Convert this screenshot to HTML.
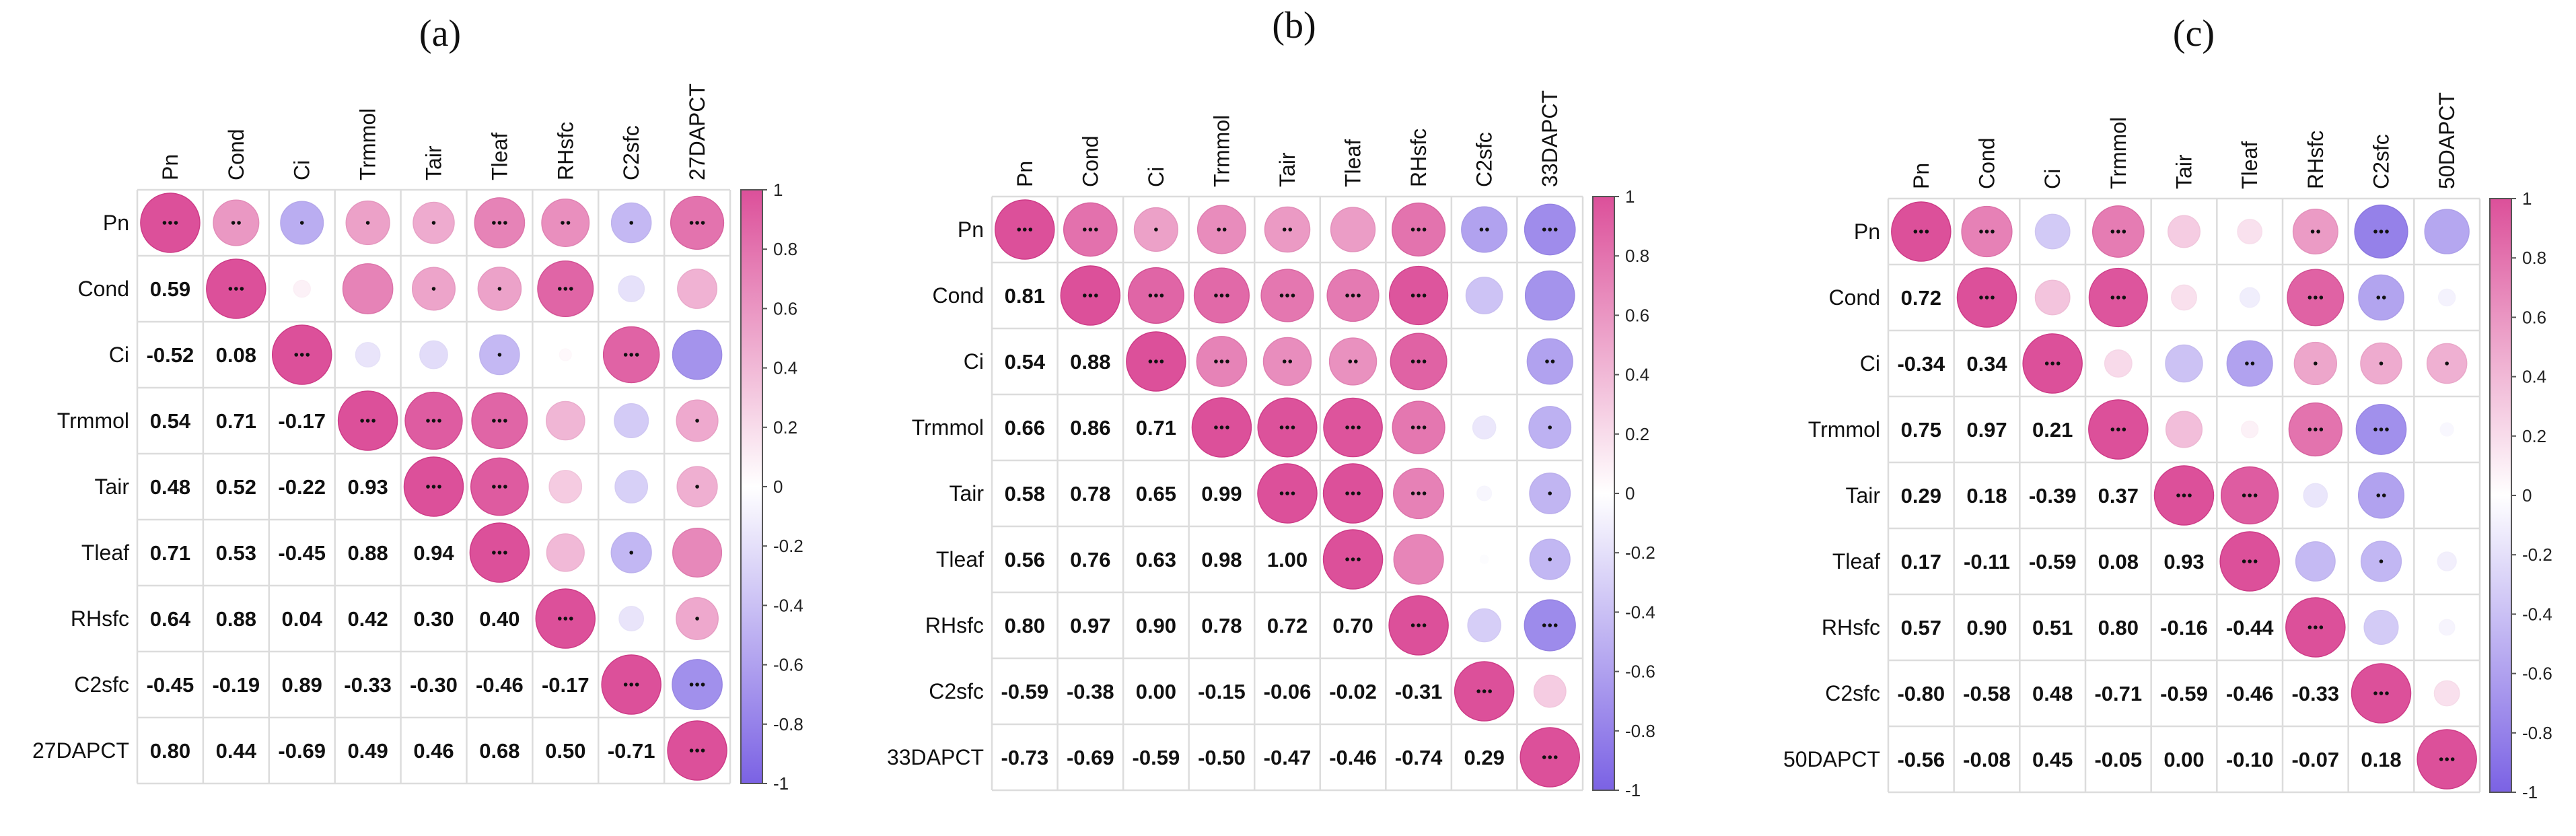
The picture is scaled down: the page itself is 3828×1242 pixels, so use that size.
<!DOCTYPE html>
<html><head><meta charset="utf-8"><style>
html,body{margin:0;padding:0;background:#fff;}
svg{display:block;font-family:"Liberation Sans",Arial,sans-serif;}
</style></head><body>
<svg id="fig" width="3828" height="1242" viewBox="0 0 3828 1242" xmlns="http://www.w3.org/2000/svg">
<defs>
<linearGradient id="cbg" x1="0" y1="0" x2="0" y2="1">
<stop offset="0" stop-color="#dc509a"/><stop offset="0.5" stop-color="#ffffff"/><stop offset="1" stop-color="#7b62e4"/>
</linearGradient>
</defs>
</svg>
<script>
// ---- data ----
const varsA = ["Pn","Cond","Ci","Trmmol","Tair","Tleaf","RHsfc","C2sfc","27DAPCT"];
const varsB = ["Pn","Cond","Ci","Trmmol","Tair","Tleaf","RHsfc","C2sfc","33DAPCT"];
const varsC = ["Pn","Cond","Ci","Trmmol","Tair","Tleaf","RHsfc","C2sfc","50DAPCT"];
// lower-triangle correlations (row i, columns 0..i-1)
const lowerA = [[],[0.59],[-0.52,0.08],[0.54,0.71,-0.17],[0.48,0.52,-0.22,0.93],[0.71,0.53,-0.45,0.88,0.94],[0.64,0.88,0.04,0.42,0.30,0.40],[-0.45,-0.19,0.89,-0.33,-0.30,-0.46,-0.17],[0.80,0.44,-0.69,0.49,0.46,0.68,0.50,-0.71]];
const lowerB = [[],[0.81],[0.54,0.88],[0.66,0.86,0.71],[0.58,0.78,0.65,0.99],[0.56,0.76,0.63,0.98,1.00],[0.80,0.97,0.90,0.78,0.72,0.70],[-0.59,-0.38,0.00,-0.15,-0.06,-0.02,-0.31],[-0.73,-0.69,-0.59,-0.50,-0.47,-0.46,-0.74,0.29]];
const lowerC = [[],[0.72],[-0.34,0.34],[0.75,0.97,0.21],[0.29,0.18,-0.39,0.37],[0.17,-0.11,-0.59,0.08,0.93],[0.57,0.90,0.51,0.80,-0.16,-0.44],[-0.80,-0.58,0.48,-0.71,-0.59,-0.46,-0.33],[-0.56,-0.08,0.45,-0.05,0.00,-0.10,-0.07,0.18]];
// significance stars, upper triangle (row i, columns i..8)
const starsA = [[3,2,1,1,1,3,2,1,3],[3,0,0,1,1,3,0,0],[3,0,0,1,0,3,0],[3,3,3,0,0,1],[3,3,0,0,1],[3,0,1,0],[3,0,1],[3,3],[3]];
const starsB = [[3,3,1,2,2,0,3,2,3],[3,3,3,3,3,3,0,0],[3,3,2,2,3,0,2],[3,3,3,3,0,1],[3,3,3,0,1],[3,0,0,1],[3,0,3],[3,0],[3]];
const starsC = [[3,3,0,3,0,0,2,3,0],[3,0,3,0,0,3,2,0],[3,0,0,2,1,1,1],[3,0,0,3,3,0],[3,3,0,2,0],[3,0,1,0],[3,0,0],[3,0],[3]];
const panelTitles = ["(a)","(b)","(c)"];
const cbTicks = [1,0.8,0.6,0.4,0.2,0,-0.2,-0.4,-0.6,-0.8,-1];

const svg = document.getElementById('fig');
const NS = "http://www.w3.org/2000/svg";
function mk(tag, attrs, parent){ const e=document.createElementNS(NS,tag); for(const k in attrs) e.setAttribute(k,attrs[k]); (parent||svg).appendChild(e); return e; }
function mix(a,b,t){ return Math.round(a+(b-a)*t); }
function color(v){
  const pos=[220,80,154], neg=[123,98,228];
  const t=Math.min(1,Math.abs(v)); const c=v>=0?pos:neg;
  return `rgb(${mix(255,c[0],t)},${mix(255,c[1],t)},${mix(255,c[2],t)})`;
}
function stroke(v){
  const pos=[205,60,135], neg=[110,85,215];
  const t=Math.min(1,Math.abs(v)); const c=v>=0?pos:neg;
  return `rgb(${mix(255,c[0],t)},${mix(255,c[1],t)},${mix(255,c[2],t)})`;
}
const panels = [
  {vars:varsA, lower:lowerA, stars:starsA, gx:204, gy:282, gw:881, gh:882, cbx:1101, titleX:654, titleY:68},
  {vars:varsB, lower:lowerB, stars:starsB, gx:1474, gy:292, gw:878, gh:882, cbx:2367, titleX:1923, titleY:56},
  {vars:varsC, lower:lowerC, stars:starsC, gx:2806, gy:295, gw:879, gh:882, cbx:3700, titleX:3260, titleY:68}
];
panels.forEach((p,pi)=>{
  const n=p.vars.length, cw=p.gw/n, ch=p.gh/n;
  const g=mk('g',{});
  
  
  const xc=j=>p.gx+cw*(j+0.5), yc=i=>p.gy+ch*(i+0.5);
  const val=(i,j)=> i===j?1:(i>j?p.lower[i][j]:p.lower[j][i]);
  // title
  const t=mk('text',{x:p.titleX,y:p.titleY,'text-anchor':'middle','font-size':56,'font-family':'"Liberation Serif",serif',fill:'#111'},g);
  t.textContent=panelTitles[pi];
  
  
  // grid
  for(let k=0;k<=n;k++){
    mk('line',{x1:p.gx+cw*k,y1:p.gy,x2:p.gx+cw*k,y2:p.gy+p.gh,stroke:'#dcdcdc','stroke-width':2.5},g);
    mk('line',{x1:p.gx,y1:p.gy+ch*k,x2:p.gx+p.gw,y2:p.gy+ch*k,stroke:'#dcdcdc','stroke-width':2.5},g);
  }
  // labels
  p.vars.forEach((v,i)=>{
    const rl=mk('text',{x:p.gx-12,y:yc(i)+11,'text-anchor':'end','font-size':32,fill:'#111'},g);
    rl.textContent=v;
    
    
    const cx=xc(i)+11, cy=p.gy-14;
    const cl=mk('text',{x:cx,y:cy,'text-anchor':'start','font-size':32,fill:'#111',transform:`rotate(-90 ${cx} ${cy})`},g);
    cl.textContent=v;
    
    
  });
  // cells
  for(let i=0;i<n;i++) for(let j=0;j<n;j++){
    const v=val(i,j);
    if(j>=i){
      const r=44*Math.sqrt(Math.abs(v));
      const c=mk('circle',{cx:xc(j),cy:yc(i),r:r,fill:color(v),stroke:stroke(v),'stroke-width':1.5},g);
      
      
      const s=p.stars[i][j-i];
      for(let k=0;k<s;k++){
        const d=mk('circle',{cx:xc(j)+(k-(s-1)/2)*8.5,cy:yc(i),r:2.8,fill:'#111'},g);
        
        
      }
    } else {
      const tx=mk('text',{x:xc(j),y:yc(i)+11,'text-anchor':'middle','font-size':31,'font-weight':'bold',fill:'#111'},g);
      tx.textContent=v.toFixed(2);
      
      
    }
  }
  // colorbar
  const cb=mk('rect',{x:p.cbx,y:p.gy,width:32,height:p.gh,fill:'url(#cbg)',stroke:'#555','stroke-width':2},g);
  
  
  cbTicks.forEach(tv=>{
    const y=p.gy+(1-tv)/2*p.gh;
    mk('line',{x1:p.cbx+32,y1:y,x2:p.cbx+39,y2:y,stroke:'#555','stroke-width':2},g);
    const tl=mk('text',{x:p.cbx+48,y:y+9,'font-size':26,fill:'#222'},g);
    tl.textContent=String(tv);
    
    
  });
});
</script>
</body></html>
